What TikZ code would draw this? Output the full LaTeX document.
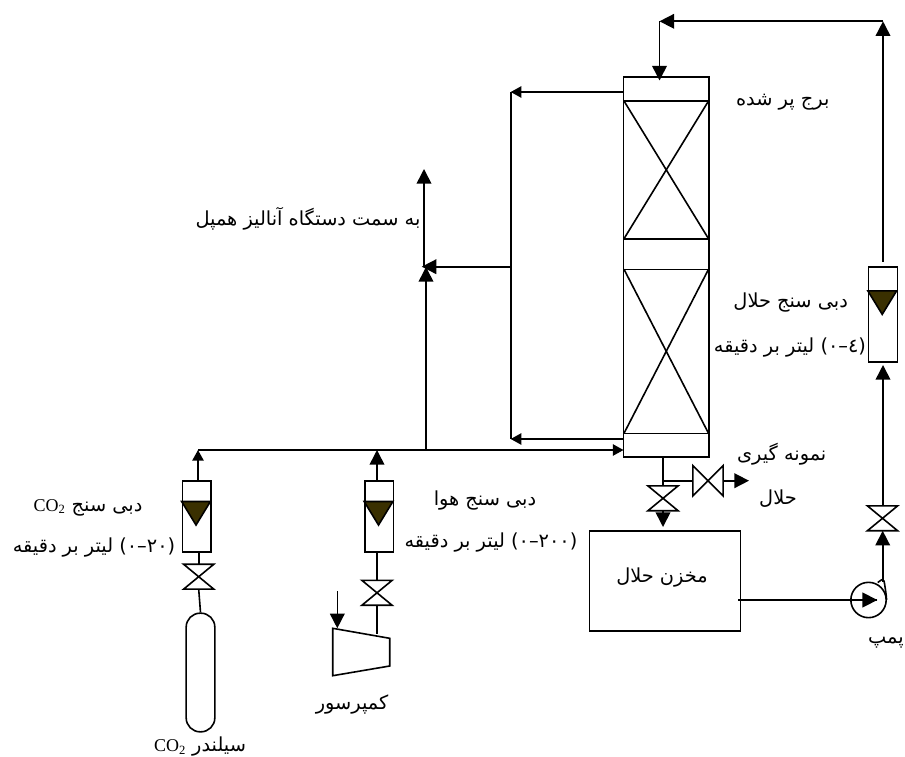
\documentclass[tikz,border=0pt]{standalone}
\usepackage{fontspec}
\usepackage{tikz}
\usetikzlibrary{arrows.meta}
\setmainfont{Liberation Serif}
\newfontfamily\arabicfont[Script=Arabic]{DejaVu Sans}
\TeXXeTstate=1
\newcommand{\fa}[1]{{\arabicfont\beginR #1\endR}}
\newcommand{\cotwo}{\beginL{\rmfamily\fontsize{13.5}{15}\selectfont CO\textsubscript{2}}\endL}
\newcommand{\flowrange}[1]{\beginL(#1)\endL}
\definecolor{floatcolor}{HTML}{3A3000}
\tikzset{
	valve/.style={inner sep=0pt,minimum width=21.5pt,minimum height=17.5pt,
		append after command={\pgfextra{\draw (\tikzlastnode.north west) -- (\tikzlastnode.north east) -- (\tikzlastnode.south west) -- (\tikzlastnode.south east) -- cycle;}}},
	sidevalve/.style={inner sep=0pt,minimum width=21.5pt,minimum height=21.5pt,
		append after command={\pgfextra{\draw (\tikzlastnode.north west) -- (\tikzlastnode.south west) -- (\tikzlastnode.north east) -- (\tikzlastnode.south east) -- cycle;}}},
	meter/.style={draw,inner sep=0pt,minimum width=21.5pt,minimum height=53.5pt},
	label/.style={inner sep=0pt,yshift=-1.8pt,font=\fontsize{14.5}{16}\selectfont}
}
\begin{document}
\begin{tikzpicture}[x=0.75pt,y=-0.75pt,line width=1.2pt]
	\useasboundingbox (0,0) rectangle (905,756);

	% equipment
	\node[draw,inner sep=0pt,minimum width=64pt,minimum height=285pt] (tower) at (666.2,267) {};
	\node[draw,inner sep=0pt,minimum width=113.5pt,minimum height=75pt] (tank) at (665,580.7) {};
	\node[draw,circle,inner sep=0pt,minimum size=26.5pt] (pump) at (868.5,600) {};
	\node[meter] (meter-co2) at (196.8,516.5) {};
	\node[meter] (meter-air) at (379.3,516.5) {};
	\node[meter,minimum height=71.3pt] (meter-solvent) at (883,314.5) {};
	\node[valve] (valve-co2) at (198.7,576.7) {};
	\node[valve] (valve-air) at (377,592.8) {};
	\node[valve] (valve-tower) at (663,498.3) {};
	\node[valve] (valve-solvent) at (882.5,518.3) {};
	\node[sidevalve] (valve-sample) at (708,480.7) {};
	\node[draw,rounded corners=10.5pt,inner sep=0pt,minimum width=21.5pt,minimum height=89pt] (cylinder) at (200.5,672.5) {};
	\draw (332.7,628.3) coordinate (comp-a) -- (389.7,638.3) coordinate (comp-b) -- (389.7,666) -- (332.7,675.7) -- cycle;

	% tower sections
	\coordinate (sec-1l) at (624,101);
	\coordinate (sec-1r) at (708.5,101);
	\coordinate (sec-2l) at (624,238.7);
	\coordinate (sec-2r) at (708.5,238.7);
	\coordinate (sec-3l) at (624,269.3);
	\coordinate (sec-3r) at (708.5,269.3);
	\coordinate (sec-4l) at (624,433.3);
	\coordinate (sec-4r) at (708.5,433.3);
	\draw (sec-1l) -- (sec-1r);
	\draw (sec-2l) -- (sec-2r);
	\draw (sec-3l) -- (sec-3r);
	\draw (sec-4l) -- (sec-4r);
	\draw (sec-1l) -- (sec-2r);
	\draw (sec-1r) -- (sec-2l);
	\draw (sec-3l) -- (sec-4r);
	\draw (sec-3r) -- (sec-4l);

	% floats
	\foreach \m in {meter-co2,meter-air}
		\filldraw[fill=floatcolor] (\m.north west) ++(0,21.5) -- ++(28.7,0) -- ++(-14.35,23.5) -- cycle;
	\filldraw[fill=floatcolor] (meter-solvent.north west) ++(0,24.7) -- ++(28.7,0) -- ++(-14.35,23.5) -- cycle;

	% pump
	\fill (862.3,592.3) -- (877.3,600) coordinate (pump-tip) -- (862.3,607.7) -- cycle;
	\draw (877.7,582.5) -- (882,579.5);
	\draw (884,580.5) .. controls (885,587) and (886,592) .. (886.6,600);

	% junctions
	\coordinate (top-r) at (883,21.3);
	\coordinate (top-l) at (659.5,21.3);
	\coordinate (tower-in) at (659.5,80.5);
	\coordinate (gas-out) at (624,92);
	\coordinate (gas-l) at (510.7,92);
	\coordinate (bot-out) at (624,439);
	\coordinate (bot-l) at (510.7,439);
	\coordinate (mid-r) at (510.7,266.7);
	\coordinate (mid-l) at (421.7,266.7);
	\coordinate (analyze-top) at (424,169);
	\coordinate (analyze-bot) at (424,266.7);
	\coordinate (main-l) at (198,450);
	\coordinate (main-r) at (623.5,450);
	\coordinate (main-j) at (426,450);
	\coordinate (main-k) at (377,450);
	\coordinate (mix) at (426,267);
	\coordinate (comp-in) at (337.3,591);
	\coordinate (comp-tip) at (337.3,628.3);
	\coordinate (tank-tip) at (663,527);
	\coordinate (sample-t) at (663,480.7);
	\coordinate (sample-tip) at (749,480.7);
	\coordinate (tank-r) at (738,600);
	\coordinate (pump-out) at (882.7,581.5);
	\coordinate (solvent-out) at (883,261.7);
	\coordinate (solvent-in) at (883,365);

	\begin{scope}[>={Triangle[length=11pt,width=11pt]},
	              every edge/.style={draw=black}]
		\path[->] (solvent-out) edge (top-r);
		\path[->] (top-r) edge (top-l);
		\path[->] (top-l) edge (tower-in);
		\path[->] (valve-solvent.north -| solvent-in) edge (solvent-in);
		\path[->] (pump-out) edge (valve-solvent.south -| pump-out);
		\path[->] (main-j) edge (mix);
		\path[->] (valve-tower.south) edge (tank-tip);
		\path[->] (sample-t -| valve-sample.east) edge (sample-tip);
		\path[->] (mid-r) edge (mid-l);
		\path[->] (analyze-bot) edge (analyze-top);
		\path[->] (meter-air.north -| main-k) edge (main-k);
		\path[->] (comp-in) edge (comp-tip);
	\end{scope}

	\begin{scope}[>={Triangle[length=8pt,width=8.5pt]},
	              every edge/.style={draw=black}]
		\path[->] (gas-out) edge (gas-l);
		\path[->] (bot-out) edge (bot-l);
		\path[->] (main-l) edge (main-r);
		\path[->] (meter-co2.north -| main-l) edge (main-l);
	\end{scope}

	\path[draw] (gas-l) -- (bot-l);
	\path[draw] (tank-r) -- (pump-tip);
	\path[draw] (sample-t) -- (valve-sample.west);
	\path[draw] (tower.south -| valve-tower) -- (valve-tower.north);
	\path[draw] (valve-co2.north |- meter-co2.south) -- (valve-co2.north);
	\path[draw] (valve-co2.south) -- (cylinder.north);
	\path[draw] (valve-air.north |- meter-air.south) -- (valve-air.north);
	\path[draw] (valve-air.south) -- (valve-air.south |- 0,634);

	% labels
	\begin{scope}[every node/.style={label}]
		\node (label-tower) at (782.7,100) {\fa{برج پر شده}};
		\node (label-analyzer) at (308,216.7) {\fa{به سمت دستگاه آنالیز همپل}};
		\node (label-sm1) at (790.7,300) {\fa{دبی سنج حلال}};
		\node (label-sm2) at (790,345) {\fa{\flowrange{٤–٠} لیتر بر دقیقه}};
		\node (label-sample1) at (781.7,451.7) {\fa{نمونه گیری}};
		\node (label-sample2) at (778,496.7) {\fa{حلال}};
		\node (label-tank) at (662,575) {\fa{مخزن حلال}};
		\node (label-pump) at (886,640) {\fa{پمپ}};
		\node (label-am1) at (485,498) {\fa{دبی سنج هوا}};
		\node (label-am2) at (491,540) {\fa{\flowrange{٢٠٠–٠} لیتر بر دقیقه}};
		\node (label-cm1) at (88,505) {\fa{دبی سنج \cotwo}};
		\node (label-cm2) at (94,545) {\fa{\flowrange{٢٠–٠} لیتر بر دقیقه}};
		\node (label-comp) at (352,701.7) {\fa{کمپرسور}};
		\node (label-cyl) at (200,744) {\fa{سیلندر \cotwo}};
	\end{scope}
\end{tikzpicture}
\end{document}
